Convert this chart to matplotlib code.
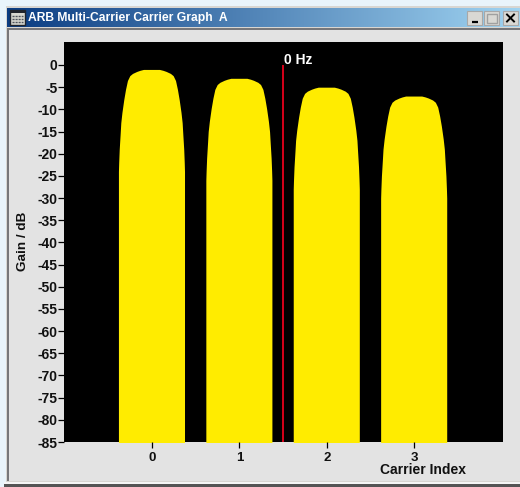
import numpy as np
import matplotlib
matplotlib.use('Agg')
import matplotlib.pyplot as plt
from matplotlib.patches import Rectangle

W, H = 520, 487

carriers = [0, 1, 2, 3]
peak_gain = [-1, -3, -5, -7]
# shape of one carrier: dB below its peak and half width in carrier index units
below_peak = [0, 0.2, 0.45, 0.9, 1.4, 2.5, 4.5, 6.8, 9.7, 12, 14.4, 18, 21, 23, 90]
half_width = [0.092, 0.132, 0.168, 0.217, 0.248, 0.275, 0.297, 0.317, 0.338, 0.351, 0.358, 0.369, 0.375, 0.378, 0.378]

y_ticks = list(range(0, -90, -5))
zero_hz = 1.5


def px_rect(x0, y0, x1, y1):
    # left, bottom, width, height in figure fractions from image pixels
    return [x0 / W, 1 - y1 / H, (x1 - x0) / W, (y1 - y0) / H]


plt.rcParams['font.family'] = ['Liberation Sans', 'DejaVu Sans']
plt.rcParams['font.weight'] = 'bold'

fig = plt.figure(figsize=(W / 100, H / 100), dpi=100, facecolor='#e9f4fb')

# window chrome, drawn in pixel coordinates
bg = fig.add_axes([0, 0, 1, 1])
bg.set_xlim(0, W)
bg.set_ylim(H, 0)
bg.axis('off')
bg.add_patch(Rectangle((6, 6), 514, 477, fc='#d8d6d2', ec='none'))
bg.add_patch(Rectangle((7, 28), 513, 453, fc='#e3e3e3', ec='none'))
bg.add_patch(Rectangle((7, 28), 1.5, 453, fc='#77777a', ec='none'))
bg.add_patch(Rectangle((7, 28), 513, 1.5, fc='#77777a', ec='none'))
bg.add_patch(Rectangle((4, 482), 516, 2, fc='#f6f6f6', ec='none'))
bg.add_patch(Rectangle((4, 484), 516, 3, fc='#555555', ec='none'))

grad = np.linspace(0, 1, 256).reshape(1, -1, 1)
c0 = np.array([10, 60, 130]) / 255
c1 = np.array([160, 212, 242]) / 255
bg.imshow(c0 + (c1 - c0) * grad, extent=(7, 520, 27, 8), aspect='auto', zorder=1)
bg.set_xlim(0, W)
bg.set_ylim(H, 0)

# title bar icon
bg.add_patch(Rectangle((10, 10), 15, 15, fc='#d8d8d0', ec='#20242c', lw=1, zorder=2))
bg.add_patch(Rectangle((10, 10), 15, 3, fc='#20242c', ec='none', zorder=3))
for yy in (15.5, 18.5, 21.5):
    bg.plot([12, 23], [yy, yy], color='#50545c', lw=1, ls=(0, (1.5, 0.7)), zorder=3)
bg.text(28, 17.5, 'ARB Multi-Carrier Carrier Graph  A', color='white', fontsize=8.7,
        ha='left', va='center', zorder=3)

# window buttons
for x0 in (467, 484, 503):
    bg.add_patch(Rectangle((x0, 11), 15, 13.5, fc='#d9d8d4', ec='#a8a8a8', lw=0.8, zorder=2))
bg.plot([472, 478], [21.5, 21.5], color='black', lw=1.6, zorder=3, solid_capstyle='butt')
bg.add_patch(Rectangle((487, 13.5), 9.5, 9, fc='none', ec='#a0a0a0', lw=1, zorder=3))
bg.plot([507, 514], [14.5, 21.5], color='black', lw=1.4, zorder=3)
bg.plot([507, 514], [21.5, 14.5], color='black', lw=1.4, zorder=3)

# plot area
px_per_unit = 87.4
px_per_db = 377 / 85
ax = fig.add_axes(px_rect(64, 42, 503, 442), facecolor='black')
ax.set_xlim((64 - 152) / px_per_unit, (503 - 152) / px_per_unit)
ax.set_ylim(-85, (65 - 42) / px_per_db)

for c, peak in zip(carriers, peak_gain):
    gain = peak - np.array(below_peak)
    hw = np.array(half_width)
    ax.fill_betweenx(gain, c - 0.006 - hw, c - 0.006 + hw, color='#ffec00', lw=0)

ax.plot([zero_hz, zero_hz], [-85, 0.0], color='#e8001c', lw=1.3, solid_capstyle='butt')
ax.text(zero_hz + 0.01, 1.2, '0 Hz', color='white', fontsize=10, ha='left', va='center')

ax.set_yticks(y_ticks)
ax.set_xticks(carriers)
ax.tick_params(axis='y', length=4, width=0.9, color='black', labelsize=10, pad=0.5, labelcolor='#111111')
ax.tick_params(axis='x', length=4, width=0.9, color='black', labelsize=9.5, pad=3, labelcolor='#111111')
ax.set_yticklabels([str(t) for t in y_ticks])
for s in ax.spines.values():
    s.set_visible(False)

bg.text(22.5, 241, 'Gain / dB', rotation=90, fontsize=9.7, color='#111111', ha='center', va='center')
bg.text(423.5, 470.5, 'Carrier Index', fontsize=10, color='#111111', ha='center', va='center')

fig.savefig('out.png', dpi=100)
